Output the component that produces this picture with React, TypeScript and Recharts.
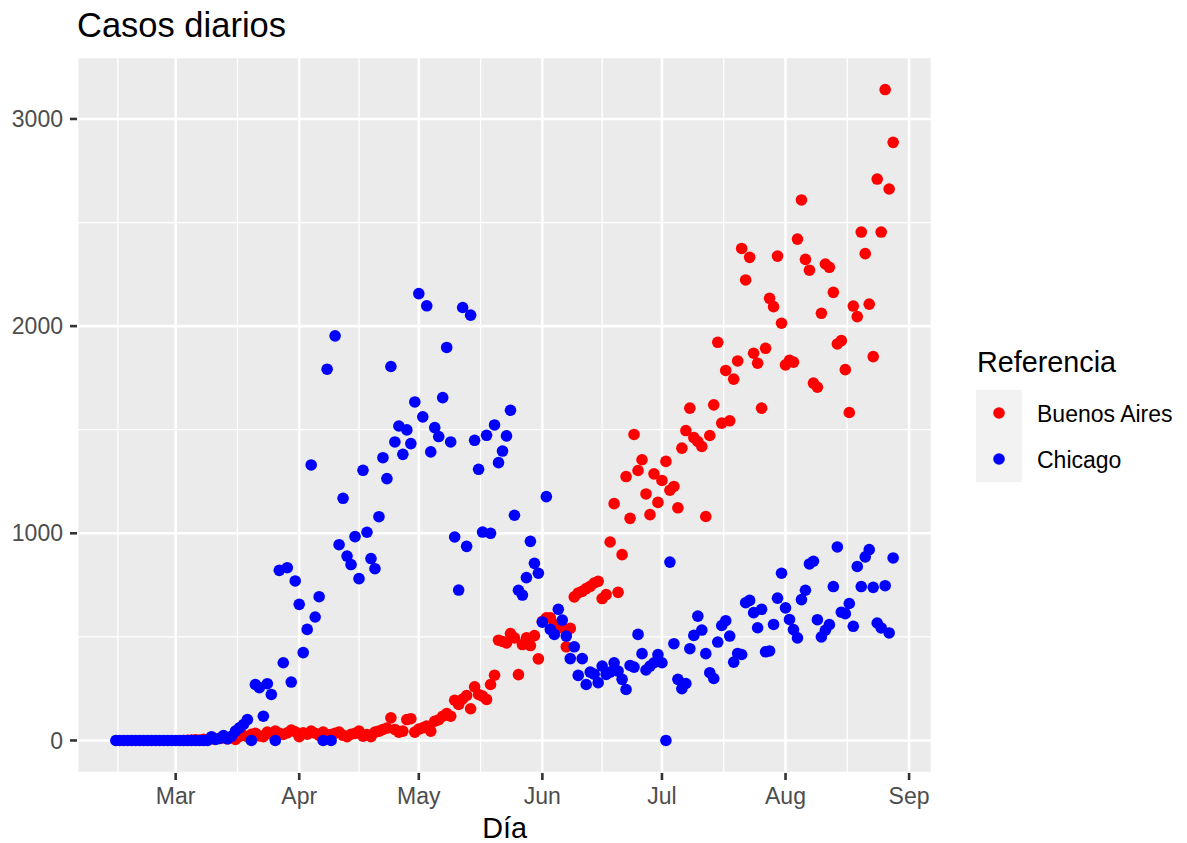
import React from 'react';
import { ScatterChart, Scatter, XAxis, YAxis, CartesianGrid, ReferenceLine } from 'recharts';

// day 0 = 2020-02-15, one value per day
const chicagoCases = [
	0, 0, 0, 0, 0, 0, 0, 0, 0, 0,
	0, 0, 0, 0, 0, 0, 0, 0, 0, 0,
	0, 0, 0, 0, 18, 5, 10, 24, 8, 20,
	45, 61, 77, 101, 0, 270, 255, 117, 274, 222,
	0, 821, 375, 834, 282, 770, 657, 424, 536, 1330,
	596, 694, 0, 1792, 0, 1953, 945, 1169, 890, 849,
	984, 781, 1304, 1005, 878, 829, 1080, 1365, 1264, 1805,
	1441, 1518, 1381, 1499, 1433, 1634, 2157, 1562, 2098, 1393,
	1510, 1467, 1655, 1897, 1441, 982, 726, 2090, 937, 2053,
	1449, 1309, 1006, 1473, 1000, 1523, 1341, 1397, 1470, 1594,
	1087, 725, 702, 786, 961, 855, 807, 571, 1177, 536,
	512, 633, 581, 504, 395, 452, 314, 395, 270, 330,
	320, 279, 359, 319, 330, 375, 335, 295, 246, 362,
	354, 512, 419, 340, 359, 375, 415, 375, 0, 861,
	467, 295, 250, 275, 443, 507, 600, 533, 419, 327,
	299, 475, 555, 578, 504, 378, 420, 415, 665, 676,
	617, 544, 633, 428, 432, 560, 687, 807, 640, 584,
	535, 495, 680, 725, 852, 865, 583, 500, 532, 559,
	743, 934, 619, 612, 661, 551, 840, 743, 886, 921,
	739, 567, 543, 747, 519, 881,
];

// Buenos Aires starts on day 17 (Mar 3)
const BA_FIRST_DAY = 17;
const buenosAiresCases = [
	0, 1, 2, 3, 2, 5, 4, 8, 6, 10,
	12, 8, 15, 5, 20, 25, 18, 30, 34, 22,
	18, 40, 30, 45, 35, 29, 37, 50, 42, 18,
	37, 30, 45, 35, 24, 40, 28, 29, 35, 40,
	25, 18, 30, 34, 45, 21, 29, 18, 40, 45,
	53, 60, 109, 53, 40, 45, 101, 105, 40, 55,
	61, 70, 45, 93, 100, 117, 130, 117, 194, 174,
	200, 217, 153, 259, 222, 214, 198, 270, 315, 484,
	478, 471, 516, 495, 318, 463, 495, 458, 506, 394,
	575, 592, 592, 560, 551, 543, 452, 541, 693, 712,
	720, 733, 744, 760, 768, 685, 704, 958, 1143, 715,
	897, 1274, 1072, 1477, 1303, 1355, 1190, 1090, 1287, 1149,
	1255, 1347, 1208, 1226, 1123, 1411, 1496, 1604, 1462, 1443,
	1419, 1081, 1472, 1620, 1922, 1532, 1786, 1543, 1744, 1832,
	2375, 2223, 2332, 1869, 1821, 1604, 1893, 2134, 2094, 2338,
	2014, 1813, 1835, 1826, 2420, 2609, 2322, 2270, 1725, 1705,
	2062, 2300, 2284, 2163, 1914, 1930, 1790, 1583, 2097, 2046,
	2454, 2350, 2106, 1853, 2710, 2454, 3142, 2662, 2887,
];

const monthTicks = [15, 46, 76, 107, 137, 168, 199];
const monthLabels = ['Mar', 'Apr', 'May', 'Jun', 'Jul', 'Aug', 'Sep'];
const minorDayTicks = [0.5, 30.5, 61, 91.5, 122, 152.5, 183.5];
const caseTicks = [0, 1000, 2000, 3000];
const minorCaseTicks = [500, 1500, 2500];

const FONT = '"Liberation Sans", Arial, Helvetica, sans-serif';
const RED = '#FF0000';
const BLUE = '#0000FF';
const DOT_R = 5.8;

const chicagoData = chicagoCases.map((cases, day) => ({ day, cases }));
const buenosAiresData = buenosAiresCases.map((cases, i) => ({ day: BA_FIRST_DAY + i, cases }));

// ggplot-style 5% expansion on both axes
const lastDay = chicagoCases.length - 1;
const xDomain = [-lastDay * 0.05, lastDay * 1.05];
const yMax = Math.max(...chicagoCases, ...buenosAiresCases);
const yDomain = [-yMax * 0.05, yMax * 1.05];

const dot = (color: string) => (props: any) => (
	<circle cx={props.cx} cy={props.cy} r={DOT_R} fill={color} />
);

const tickStyle = { fill: '#4D4D4D', fontSize: 23, fontFamily: FONT };
const tickLine = { stroke: '#333333', strokeWidth: 2.6 };

export default function App() {
	return (
		<div style={{ position: 'relative', width: 1187, height: 843, background: '#fff' }}>
			<style>{'body{margin:0}'}</style>
			<ScatterChart width={1187} height={843} margin={{ top: 57, right: 255, bottom: 30, left: 7 }}>
				<CartesianGrid fill="#EBEBEB" stroke="#FFFFFF" strokeWidth={2.6} />
				{minorDayTicks.map((d) => (
					<ReferenceLine key={`vx-${d}`} x={d} stroke="#FFFFFF" strokeWidth={1.3} />
				))}
				{minorCaseTicks.map((c) => (
					<ReferenceLine key={`hy-${c}`} y={c} stroke="#FFFFFF" strokeWidth={1.3} />
				))}
				<XAxis
					type="number"
					dataKey="day"
					domain={xDomain}
					ticks={monthTicks}
					interval={0}
					allowDataOverflow
					tickFormatter={(d) => monthLabels[monthTicks.indexOf(d)]}
					axisLine={false}
					tickLine={tickLine}
					tickSize={7}
					tickMargin={8}
					tick={tickStyle}
					height={40}
				/>
				<YAxis
					type="number"
					dataKey="cases"
					domain={yDomain}
					ticks={caseTicks}
					interval={0}
					allowDataOverflow
					axisLine={false}
					tickLine={tickLine}
					tickSize={7}
					tickMargin={7}
					tick={tickStyle}
					width={70}
				/>
				<Scatter name="Buenos Aires" data={buenosAiresData} fill={RED} shape={dot(RED)} isAnimationActive={false} />
				<Scatter name="Chicago" data={chicagoData} fill={BLUE} shape={dot(BLUE)} isAnimationActive={false} />
			</ScatterChart>
			<svg
				width={1187}
				height={843}
				style={{ position: 'absolute', left: 0, top: 0, pointerEvents: 'none' }}
				fontFamily={FONT}
			>
				<text x={77} y={37} fontSize={34.5} fill="#000">Casos diarios</text>
				<text x={504.6} y={838} fontSize={28.75} textAnchor="middle" fill="#000">Día</text>
				<text x={977} y={372} fontSize={28.75} fill="#000">Referencia</text>
				<rect x={976} y={390} width={46} height={46} fill="#F2F2F2" />
				<rect x={976} y={436} width={46} height={46} fill="#F2F2F2" />
				<circle cx={999} cy={413} r={DOT_R} fill={RED} />
				<circle cx={999} cy={459} r={DOT_R} fill={BLUE} />
				<text x={1037} y={421.5} fontSize={23} fill="#000">Buenos Aires</text>
				<text x={1037} y={467.5} fontSize={23} fill="#000">Chicago</text>
			</svg>
		</div>
	);
}
